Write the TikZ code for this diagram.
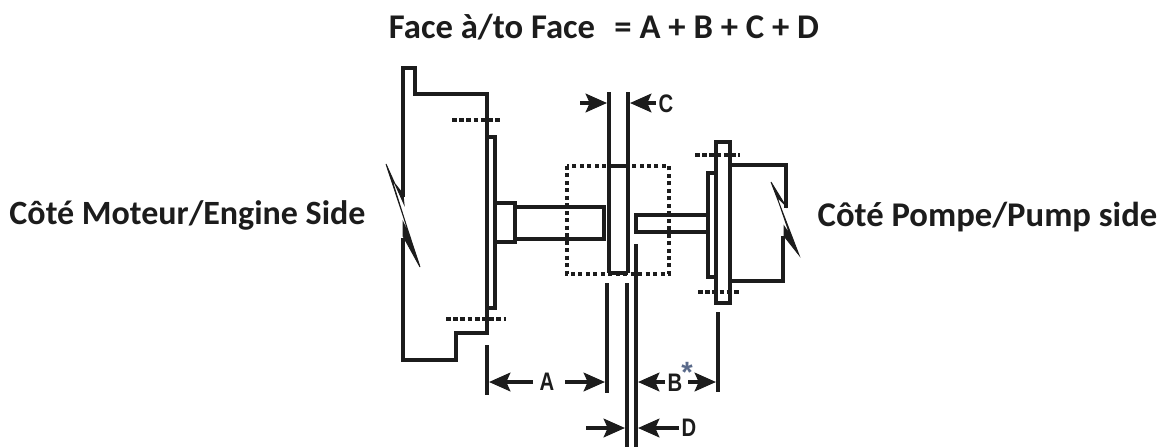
\documentclass[tikz,border=0pt]{standalone}
\usepackage{fontspec}
\setmainfont{Carlito}
\newfontfamily\dimfont{Liberation Sans}
\usetikzlibrary{arrows.meta}
\definecolor{ink}{HTML}{1C1C1C}
\definecolor{starblue}{HTML}{5A6A8A}
\tikzset{
  x=0.75pt,y=-0.75pt,
  part/.style={draw=ink,line width=2.3pt,line join=miter},
  thin part/.style={draw=ink,line width=2.5pt},
  hidden/.style={draw=ink,line width=2.7pt,dash pattern=on 3.6pt off 1.8pt},
  dotted box/.style={draw=ink,line width=2.6pt,dash pattern=on 3pt off 2.6pt},
  dim/.style={draw=ink,line width=2.4pt,-{Stealth[length=16pt,width=14pt,inset=3pt]},shorten >=0pt},
  dimlabel/.style={inner sep=0pt,text=ink,font=\dimfont\bfseries\fontsize{19}{20}\selectfont},
  caption/.style={inner sep=0pt,text=ink,font=\bfseries\fontsize{26}{30}\selectfont},
  bolt/.style={fill=ink,draw=ink,line width=0.7pt,line join=miter},
}
\begin{document}
\begin{tikzpicture}
\useasboundingbox (0,0) rectangle (1165,447);
% captions
\node[caption] (title) at (604,27) {Face à/to Face\,\, = A + B + C + D};
\node[caption,font=\bfseries\fontsize{25.5}{30}\selectfont] (engine) at (187.5,215) {Côté Moteur/Engine Side};
\node[caption] (pump) at (987.5,217) {Côté Pompe/Pump side};
% engine housing
\draw[part] (403,197) -- (403,68) -- (415,68) -- (415,94) -- (487,94) -- (487,333) -- (456,333) -- (456,360) -- (403,360) -- (403,238);
\draw[part] (487,137) -- (495,137) -- (495,308) -- (487,308);
\draw[bolt] (404,204) -- (386,164) -- (420,267) -- (403,236) -- (403,222) -- (410,237) -- (392,180) -- (403,194) -- cycle;
% hub and shaft
\draw[part] (495,203) -- (515,203) -- (515,242) -- (495,242);
\draw[part] (515,207) -- (604,207) -- (604,239) -- (515,239);
% engine dashes
\draw[hidden] (452,120) -- (501,120);
\draw[hidden] (446,319) -- (506,319);
% coupling envelope
\draw[dotted box] (567,166) rectangle (669,274);
% disc
\draw[part] (609,92) -- (609,273);
\draw[part] (628,92) -- (628,273);
\draw[part] (609,166) -- (628,166);
\draw[part] (609,273) -- (628,273);
% pump shaft, flange and body
\draw[part] (708,215) -- (636,215) -- (636,232) -- (708,232);
\draw[part] (716,173) -- (708,173) -- (708,277) -- (716,277);
\draw[part] (716,142) rectangle (730,303);
\draw[part] (730,165) -- (786,165) -- (786,208);
\draw[part] (730,281) -- (783,281) -- (783,236);
\draw[bolt] (787,208) -- (771,182) -- (799,255) -- (784,236) -- (784,226) -- (790,235) -- (777,197) -- (786,206) -- cycle;
\draw[hidden] (695,155) -- (740,155);
\draw[hidden] (698,292) -- (741,292);
% extension lines
\draw[thin part] (487,345) -- (487,395);
\draw[thin part] (607,283) -- (607,393);
\draw[part] (627,283) -- (627,447);
\draw[part] (636,244) -- (636,447);
\draw[thin part] (718,312) -- (718,392);
% dimension labels
\node[dimlabel] (lblC) at (666,104) {\scalebox{.8}[1]{C}};
\node[dimlabel] (lblA) at (547,382) {\scalebox{.8}[1]{A}};
\node[dimlabel] (lblB) at (675,383) {\scalebox{.8}[1]{B}};
\node[dimlabel] (lblD) at (689,428) {\scalebox{.8}[1]{D}};
\node[inner sep=0pt,text=starblue,font=\dimfont\bfseries\fontsize{22}{22}\selectfont] (star) at (687,372) {*};
% dimension arrows
\coordinate (c1) at (580,103); \coordinate (c2) at (607,103);
\coordinate (c3) at (630,103);
\coordinate (a0) at (533,382); \coordinate (a1) at (489,382);
\coordinate (a2) at (565,382); \coordinate (a3) at (605,382);
\coordinate (b0) at (638,382);
\coordinate (b1) at (688,382); \coordinate (b2) at (716,382);
\coordinate (d1) at (586,428); \coordinate (d2) at (625,428);
\coordinate (d3) at (638,428);
\draw[dim] (c1) -- (c2);
\draw[dim] (lblC) ++(-10,-1) -- (c3);
\draw[dim] (a0) -- (a1);
\draw[dim] (a2) -- (a3);
\draw[dim] (lblB) ++(-10,-1) -- (b0);
\draw[dim] (b1) -- (b2);
\draw[dim] (d1) -- (d2);
\draw[dim] (lblD) ++(-10,0) -- (d3);
\end{tikzpicture}
\end{document}
